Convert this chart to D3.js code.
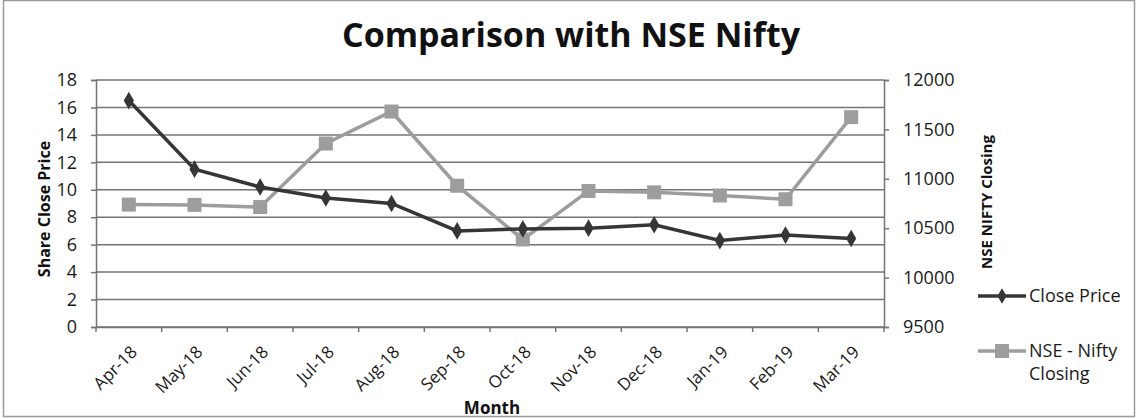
<!DOCTYPE html>
<html><head><meta charset="utf-8">
<script src="https://cdn.jsdelivr.net/npm/d3@7"></script>
<style>body{margin:0;background:#fff}svg{display:block;font-family:"Open Sans",sans-serif}</style>
</head><body><svg id="c" width="1136" height="419"></svg>
<script>
const months = ["Apr-18","May-18","Jun-18","Jul-18","Aug-18","Sep-18","Oct-18","Nov-18","Dec-18","Jan-19","Feb-19","Mar-19"];
const closePrice = [16.5,11.5,10.2,9.4,9.0,7.0,7.15,7.2,7.45,6.3,6.7,6.45];
const niftyClosing = [10739,10736,10714,11357,11681,10930,10386,10877,10863,10831,10793,11624];
const leftTicks = [0,2,4,6,8,10,12,14,16,18];
const rightTicks = [9500,10000,10500,11000,11500,12000];

const svg = d3.select("#c");
const L=96,R=884,T=80,B=327;
const FONT = "'Open Sans', sans-serif";
svg.append("rect").attr("x",3.5).attr("y",0.5).attr("width",1131).attr("height",416).attr("fill","#fff").attr("stroke","#9a9a9a").attr("stroke-width",1.5);

const x = d3.scaleBand().domain(months).range([L,R]);
const yL = d3.scaleLinear().domain([0,18]).range([B,T]);
const yR = d3.scaleLinear().domain([9500,12000]).range([B,T]);
const axisColor = "#747474";

// gridlines
svg.append("g").selectAll("line").data(leftTicks).join("line")
  .attr("x1",L).attr("x2",R).attr("y1",d=>yL(d)).attr("y2",d=>yL(d))
  .attr("stroke",axisColor).attr("stroke-width",1.5);

// left axis
const gL = svg.append("g").attr("transform",`translate(${L},0)`)
  .call(d3.axisLeft(yL).tickValues(leftTicks).tickSize(5).tickPadding(14));
// right axis
const gR = svg.append("g").attr("transform",`translate(${R},0)`)
  .call(d3.axisRight(yR).tickValues(rightTicks).tickFormat(d3.format("d")).tickSize(5).tickPadding(14));
// bottom axis
const gB = svg.append("g").attr("transform",`translate(0,${B})`)
  .call(d3.axisBottom(x).tickSize(0).tickPadding(0));
gB.selectAll(".tick line").remove();
const bounds = months.map(m=>x(m)).concat([R]);
gB.selectAll(".bt").data(bounds).join("line").attr("class","bt")
  .attr("x1",d=>d).attr("x2",d=>d).attr("y1",0).attr("y2",5).attr("stroke",axisColor).attr("stroke-width",1.5);
[gL,gR,gB].forEach(g=>{
  g.selectAll(".domain").attr("stroke",axisColor).attr("stroke-width",1.5);
  g.selectAll(".tick line").attr("stroke",axisColor).attr("stroke-width",1.5);
  g.selectAll("text").attr("fill","#1a1a1a").attr("font-size",18).attr("font-family",FONT);
});
gB.selectAll(".tick text")
  .attr("text-anchor","end")
  .attr("transform","translate(5,22) rotate(-45)")
  .attr("dy","0.35em").attr("font-size",17);

// lines
const lineC = d3.line().x((d,i)=>x(months[i])+x.bandwidth()/2).y(d=>yL(d));
const lineN = d3.line().x((d,i)=>x(months[i])+x.bandwidth()/2).y(d=>yR(d));
const cGray="#9d9d9d", cDark="#363636";
svg.append("path").datum(niftyClosing).attr("d",lineN).attr("fill","none").attr("stroke",cGray).attr("stroke-width",3.5);
svg.append("g").selectAll("rect").data(niftyClosing).join("rect")
  .attr("x",(d,i)=>x(months[i])+x.bandwidth()/2-7).attr("y",d=>yR(d)-7)
  .attr("width",14).attr("height",14).attr("fill",cGray);
svg.append("path").datum(closePrice).attr("d",lineC).attr("fill","none").attr("stroke",cDark).attr("stroke-width",3.5);
svg.append("g").selectAll("path").data(closePrice).join("path")
  .attr("d",d3.symbol(d3.symbolDiamond,90))
  .attr("transform",(d,i)=>`translate(${x(months[i])+x.bandwidth()/2},${yL(d)})`)
  .attr("fill",cDark);

// titles
svg.append("text").attr("x",571).attr("y",47).attr("text-anchor","middle").attr("font-family",FONT)
  .attr("font-size",34).attr("font-weight","bold").attr("fill","#111").text("Comparison with NSE Nifty");
svg.append("text").attr("transform","translate(50,209) rotate(-90)").attr("text-anchor","middle").attr("font-family",FONT)
  .attr("font-size",16).attr("font-weight","bold").attr("fill","#111").text("Share Close Price");
svg.append("text").attr("transform","translate(992,202) rotate(-90)").attr("text-anchor","middle").attr("font-family",FONT)
  .attr("font-size",15).attr("font-weight","bold").attr("fill","#111").text("NSE NIFTY Closing");
svg.append("text").attr("x",492).attr("y",414).attr("text-anchor","middle").attr("font-family",FONT)
  .attr("font-size",17).attr("font-weight","bold").attr("fill","#111").text("Month");

// legend
const lg = svg.append("g").attr("font-family",FONT);
lg.append("line").attr("x1",978).attr("x2",1026).attr("y1",296).attr("y2",296).attr("stroke",cDark).attr("stroke-width",3.5);
lg.append("path").attr("d",d3.symbol(d3.symbolDiamond,70)).attr("transform","translate(1002,296)").attr("fill",cDark);
lg.append("text").attr("x",1029).attr("y",302).attr("font-size",18).attr("fill","#1a1a1a").text("Close Price");
lg.append("line").attr("x1",978).attr("x2",1026).attr("y1",351).attr("y2",351).attr("stroke",cGray).attr("stroke-width",3.5);
lg.append("rect").attr("x",995).attr("y",344).attr("width",14).attr("height",14).attr("fill",cGray);
lg.append("text").attr("x",1029).attr("y",357).attr("font-size",18).attr("fill","#1a1a1a").text("NSE - Nifty");
lg.append("text").attr("x",1029).attr("y",380).attr("font-size",18).attr("fill","#1a1a1a").text("Closing");
</script></body></html>
